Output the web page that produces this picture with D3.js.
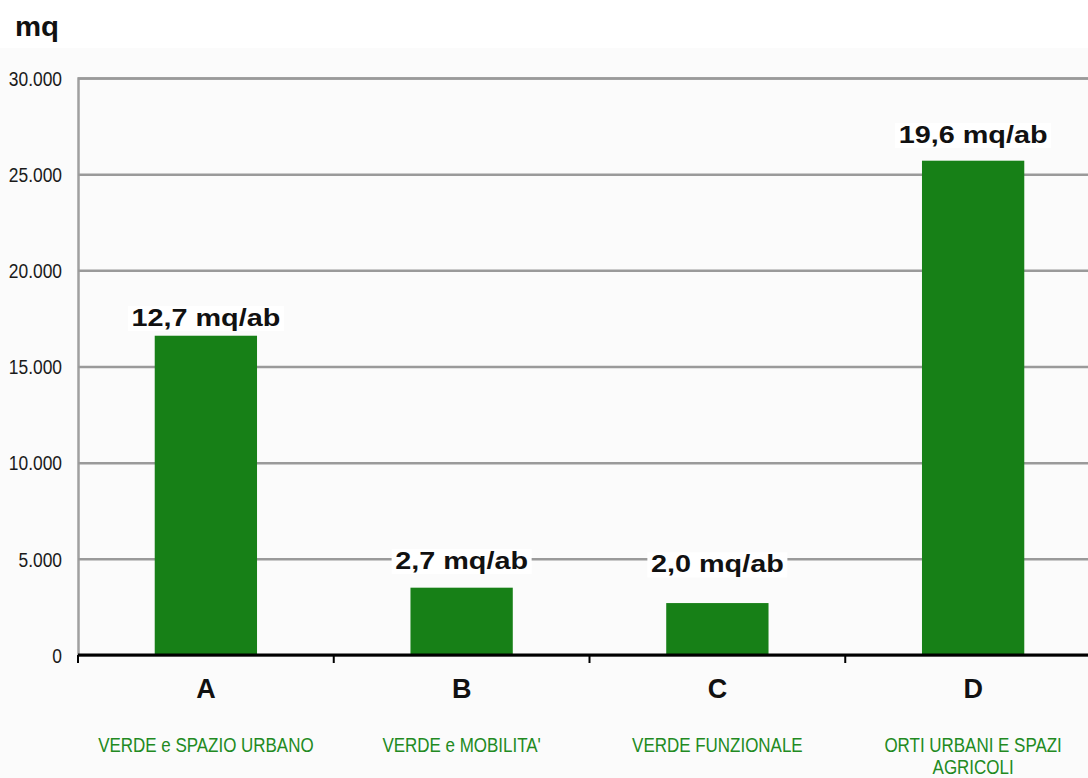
<!DOCTYPE html>
<html>
<head>
<meta charset="utf-8">
<script src="https://cdn.jsdelivr.net/npm/d3@7"></script>
<style>
  html, body { margin: 0; padding: 0; background: #ffffff; }
  svg { display: block; }
</style>
</head>
<body>
<svg id="chart" width="1088" height="778"></svg>
<script>
// Superficie a verde per tipologia (mq) e dotazione per abitante
const categories = ["A", "B", "C", "D"];
const categoryNames = [
  ["VERDE e SPAZIO URBANO"],
  ["VERDE e MOBILITA'"],
  ["VERDE FUNZIONALE"],
  ["ORTI URBANI E SPAZI", "AGRICOLI"]
];
const areaMq = [16600, 3500, 2700, 25700];
const perInhabitant = ["12,7 mq/ab", "2,7 mq/ab", "2,0 mq/ab", "19,6 mq/ab"];
const yTicks = [0, 5000, 10000, 15000, 20000, 25000, 30000];
const yTickLabels = ["0", "5.000", "10.000", "15.000", "20.000", "25.000", "30.000"];
const unitLabel = "mq";

// gap (px) between each bar top and its value label
const labelLift = [10, 19, 31, 18];

const svg = d3.select("#chart");
const W = 1088, H = 778;
const plot = { left: 78, top: 78, right: 1101, bottom: 655 };

// light backdrop under the chart body
svg.append("rect").attr("x", 0).attr("y", 48).attr("width", W).attr("height", H - 48)
  .attr("fill", "#fbfbfb");

const x = d3.scaleBand().domain(categories)
  .range([plot.left, plot.right]).paddingInner(0.6).paddingOuter(0.3);
const y = d3.scaleLinear().domain([0, 30000]).range([plot.bottom, plot.top]);

const font = "'Liberation Sans', Arial, Helvetica, sans-serif";

// horizontal gridlines + left frame
const yAxis = d3.axisLeft(y).tickValues(yTicks)
  .tickFormat((d, i) => yTickLabels[i])
  .tickSize(-(plot.right - plot.left)).tickPadding(0);
const gy = svg.append("g").attr("transform", `translate(${plot.left},0)`).call(yAxis);
gy.select(".domain").attr("stroke", "#a0a0a0").attr("stroke-width", 2.5);
gy.selectAll(".tick line").attr("stroke", "#9a9a9a").attr("stroke-width", 2.5);
gy.selectAll(".tick text")
  .attr("x", null).attr("dy", "0.36em")
  .attr("transform", "translate(-16,0) scale(0.87,1)")
  .attr("fill", "#1a1a1a")
  .style("font-family", font)
  .style("font-size", "20px");

// bars
svg.append("g").selectAll("rect").data(areaMq).join("rect")
  .attr("x", (d, i) => x(categories[i]))
  .attr("y", d => y(d))
  .attr("width", x.bandwidth())
  .attr("height", d => y(0) - y(d))
  .attr("fill", "#178017");

// x axis baseline with boundary ticks
const xAxisG = svg.append("g");
xAxisG.append("line").attr("x1", plot.left).attr("x2", W).attr("y1", y(0)).attr("y2", y(0))
  .attr("stroke", "#000").attr("stroke-width", 3);
const bounds = categories.map(c => x(c) - x.step() * x.paddingOuter());
xAxisG.selectAll("line.b").data(bounds).join("line").attr("class", "b")
  .attr("x1", d => d).attr("x2", d => d)
  .attr("y1", y(0)).attr("y2", y(0) + 8)
  .attr("stroke", "#000").attr("stroke-width", 2);

// value labels above the bars, with a white backing
const labels = svg.append("g");
perInhabitant.forEach((t, i) => {
  const cx = x(categories[i]) + x.bandwidth() / 2;
  const by = y(areaMq[i]) - labelLift[i];
  const g = labels.append("g").attr("transform", `translate(${cx},${by}) scale(1.2,1)`);
  const bg = g.append("rect").attr("fill", "#ffffff");
  const tx = g.append("text").attr("text-anchor", "middle")
    .style("font-family", font).style("font-weight", "bold").style("font-size", "24px")
    .attr("fill", "#111").text(t);
  const bb = tx.node().getBBox();
  bg.attr("x", bb.x - 3).attr("y", bb.y + 2).attr("width", bb.width + 6).attr("height", bb.height - 2);
});

// category letters
svg.append("g").selectAll("text").data(categories).join("text")
  .attr("x", d => x(d) + x.bandwidth() / 2).attr("y", 698)
  .attr("text-anchor", "middle")
  .style("font-family", font).style("font-weight", "bold").style("font-size", "27px")
  .attr("fill", "#111").text(d => d);

// category descriptions
const names = svg.append("g");
categoryNames.forEach((lines, i) => {
  const cx = x(categories[i]) + x.bandwidth() / 2;
  lines.forEach((ln, j) => {
    names.append("text")
      .attr("transform", `translate(${cx},${752 + j * 22}) scale(0.87,1)`)
      .attr("text-anchor", "middle")
      .style("font-family", font)
      .style("font-size", "19.5px")
      .attr("fill", "#228a22").text(ln);
  });
});

// unit label
svg.append("text").attr("transform", "translate(15,36) scale(1.05,1)")
  .style("font-family", font).style("font-weight", "bold").style("font-size", "28px")
  .attr("fill", "#111").text(unitLabel);
</script>
</body>
</html>
